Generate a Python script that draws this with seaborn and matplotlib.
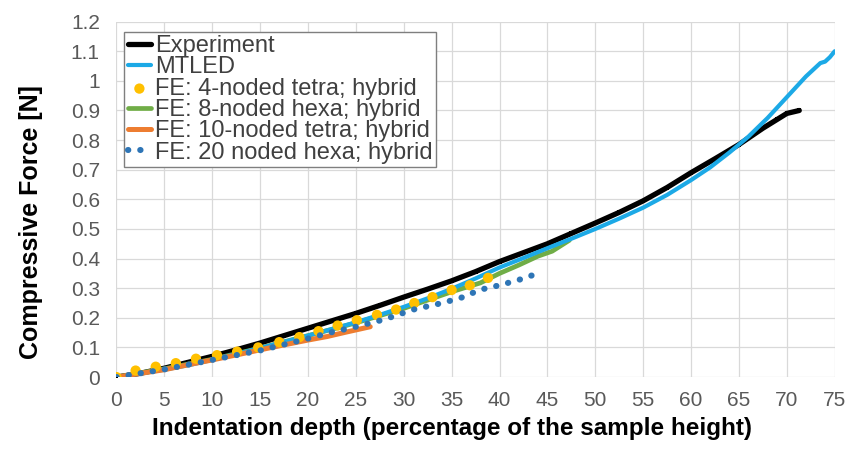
import matplotlib
matplotlib.use("Agg")
import matplotlib.pyplot as plt
import seaborn as sns
import pandas as pd

# ---- data ----
exp_x = [0, 2.5, 5, 7.5, 10, 12.5, 15, 17.5, 20, 22.5, 25, 27.5, 30, 32.5, 35, 37.5, 40, 42.5, 45,
         47.5, 50, 52.5, 55, 57.5, 60, 62.5, 65, 67.5, 69, 70, 71.3]
exp_y = [0, 0.013, 0.03, 0.05, 0.07, 0.092, 0.115, 0.14, 0.165, 0.19, 0.215, 0.242, 0.27, 0.297,
         0.325, 0.356, 0.39, 0.42, 0.45, 0.485, 0.52, 0.556, 0.595, 0.64, 0.69, 0.737, 0.785, 0.84,
         0.87, 0.89, 0.90]

mtled_x = [0, 2.5, 5, 7.5, 10, 12.5, 15, 17.5, 20, 22.5, 25, 27.5, 30, 32.5, 35, 37.5, 40, 42.5, 45,
           47.5, 50, 52.5, 55, 57.5, 60, 62, 64, 66, 68, 70, 71, 72, 73, 73.5, 74, 74.5, 75]
mtled_y = [0, 0.012, 0.025, 0.04, 0.058, 0.078, 0.098, 0.119, 0.14, 0.162, 0.185, 0.21, 0.237, 0.266,
           0.298, 0.333, 0.37, 0.402, 0.435, 0.467, 0.50, 0.535, 0.572, 0.615, 0.665, 0.708, 0.758,
           0.812, 0.875, 0.945, 0.98, 1.015, 1.045, 1.06, 1.065, 1.08, 1.10]

tet4_x = [0, 2, 4.1, 6.2, 8.3, 10.5, 12.6, 14.8, 17, 19.1, 21.1, 23.1, 25.1, 27.2, 29.2, 31.1, 33, 35,
          36.9, 38.8]
tet4_y = [0, 0.022, 0.035, 0.047, 0.062, 0.074, 0.086, 0.10, 0.118, 0.135, 0.155, 0.174, 0.192, 0.21,
          0.228, 0.25, 0.27, 0.294, 0.31, 0.335]

hex8_x = [0, 5, 10, 15, 20, 25, 30, 35, 38, 40, 42, 44, 45.5, 47.3]
hex8_y = [0, 0.028, 0.06, 0.098, 0.14, 0.183, 0.232, 0.288, 0.318, 0.35, 0.378, 0.408, 0.425, 0.462]

tet10_x = [0, 3, 5, 8, 10, 13, 15, 18, 20, 22, 24, 26.5]
tet10_y = [0, 0.015, 0.025, 0.045, 0.058, 0.078, 0.092, 0.112, 0.125, 0.137, 0.152, 0.17]

hex20_x = [0, 5, 10, 15, 20, 22, 25, 28, 31, 34, 36, 38, 40, 42, 44]
hex20_y = [0, 0.026, 0.058, 0.09, 0.13, 0.148, 0.17, 0.195, 0.228, 0.25, 0.268, 0.295, 0.31, 0.328, 0.35]

x_ticks = list(range(0, 80, 5))
y_ticks = [round(0.1 * i, 1) for i in range(13)]
y_ticklabels = ["0", "0.1", "0.2", "0.3", "0.4", "0.5", "0.6", "0.7", "0.8", "0.9", "1", "1.1", "1.2"]

labels = ["Experiment", "MTLED", "FE: 4-noded tetra; hybrid", "FE: 8-noded hexa; hybrid",
          "FE: 10-noded tetra; hybrid", "FE: 20 noded hexa; hybrid"]

# ---- style ----
sns.set_theme(style="whitegrid")
plt.rcParams["font.family"] = ["Liberation Sans", "DejaVu Sans"]

fig = plt.figure(figsize=(8.5, 4.5), dpi=100)
ax = fig.add_axes([0.137, 0.162, 0.845, 0.79])

df_exp = pd.DataFrame({"x": exp_x, "y": exp_y})
df_mt = pd.DataFrame({"x": mtled_x, "y": mtled_y})
df_t4 = pd.DataFrame({"x": tet4_x, "y": tet4_y})
df_h8 = pd.DataFrame({"x": hex8_x, "y": hex8_y})
df_t10 = pd.DataFrame({"x": tet10_x, "y": tet10_y})
df_h20 = pd.DataFrame({"x": hex20_x, "y": hex20_y})

sns.lineplot(data=df_exp, x="x", y="y", ax=ax, color="black", linewidth=3.8, label=labels[0],
             marker="s", markersize=3.5, markeredgewidth=0, zorder=3, sort=False)
sns.lineplot(data=df_h8, x="x", y="y", ax=ax, color="#70AD47", linewidth=3.4, label=labels[3],
             zorder=3.5, sort=False)
sns.lineplot(data=df_mt, x="x", y="y", ax=ax, color="#1CA9E6", linewidth=3.0, label=labels[1],
             zorder=4, sort=False)
sns.lineplot(data=df_t10, x="x", y="y", ax=ax, color="#ED7D31", linewidth=3.6, label=labels[4],
             zorder=5, sort=False, solid_capstyle="round")
sns.scatterplot(data=df_t4, x="x", y="y", ax=ax, color="#FFC000", s=55, edgecolor="none",
                label=labels[2], zorder=6)
sns.lineplot(data=df_h20, x="x", y="y", ax=ax, color="#2E75B6", linewidth=4.4, label=labels[5],
             zorder=7, sort=False, linestyle=(0, (0.05, 1.95)), dash_capstyle="round")

ax.set_xlim(0, 75)
ax.set_ylim(0, 1.2)
ax.set_xticks(x_ticks)
ax.set_yticks(y_ticks)
ax.set_yticklabels(y_ticklabels)
ax.tick_params(axis="both", colors="#595959", labelsize=15, length=0)
ax.tick_params(axis="x", pad=10)
ax.tick_params(axis="y", pad=12)
ax.grid(True, color="#D9D9D9", linewidth=0.9)
for s in ax.spines.values():
    s.set_visible(False)
ax.set_facecolor("white")

ax.set_xlabel("Indentation depth (percentage of the sample height)", fontsize=17.5,
              fontweight="bold", color="black", labelpad=5)
ax.xaxis.label.set_x(0.467)
ax.set_ylabel("Compressive Force [N]", fontsize=18, fontweight="bold", color="black", labelpad=20)
ax.yaxis.label.set_y(0.435)

handles, labs = ax.get_legend_handles_labels()
order = [labs.index(l) for l in labels]
leg = ax.legend([handles[i] for i in order], [labs[i] for i in order],
                loc="upper left", bbox_to_anchor=(0.004, 0.985), fontsize=17,
                frameon=True, fancybox=False, edgecolor="#7F7F7F", framealpha=1,
                handlelength=1.0, handletextpad=0.15, borderpad=0.15, labelspacing=-0.03,
                borderaxespad=0.2)
leg.get_frame().set_linewidth(1.0)
for t in leg.get_texts():
    t.set_color("#404040")

fig.savefig("out.png", dpi=100, facecolor="white")
